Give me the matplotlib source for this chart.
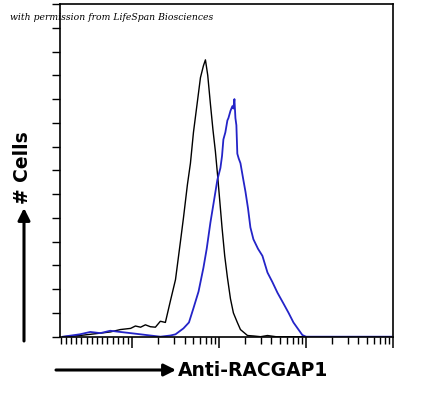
import matplotlib
matplotlib.use("Agg")
import matplotlib.pyplot as plt
import numpy as np
from matplotlib.patches import FancyArrowPatch
from matplotlib.ticker import LogLocator, NullFormatter, MultipleLocator, FixedLocator

# isotype control (black) - fluorescence intensity vs cell count
ctrl_x = [1.6, 2.5, 3.3, 4.3, 5.6, 7.3, 9.6, 10.9, 12.5, 14.2, 16.2, 18.5, 21.1,
          24.1, 27.5, 31.5, 35.9, 38.9, 43.2, 46.8, 50.7, 56.3, 61, 66, 69.6,
          74, 79.4, 85, 90.6, 96, 103.5, 108, 116, 124.5, 135, 146, 162, 176,
          212, 250, 300, 360, 450, 700, 1200, 3000, 9500]
ctrl_y = [0.0, 0.05, 0.1, 0.15, 0.2, 0.3, 0.35, 0.45, 0.4, 0.5, 0.42, 0.4, 0.65,
          0.6, 1.5, 2.4, 4.0, 5.0, 6.4, 7.3, 8.6, 9.9, 10.9, 11.4, 11.65,
          11.0, 9.8, 8.7, 7.8, 6.8, 5.4, 4.6, 3.4, 2.5, 1.6, 1.0, 0.6, 0.3,
          0.05, 0.03, 0.0, 0.05, 0.0, 0.0, 0.0, 0.0, 0.0]

# anti-RACGAP1 stained (blue)
stain_x = [1.6, 2.5, 3.3, 4.3, 5.6, 7.3, 9.6, 12.5, 16.2, 21.1, 27.5, 31.5,
           38.9, 45, 50.7, 58, 66, 72, 79.4, 88, 95.5, 103.5, 108, 112, 118,
           124.5, 128, 135, 142, 146, 150, 154, 158, 162, 168, 176, 190, 201,
           215, 229, 248, 280, 315, 360, 410, 469, 549, 630, 716, 800, 907,
           1000, 1500, 3000, 9500]
stain_y = [0.0, 0.1, 0.2, 0.15, 0.25, 0.2, 0.15, 0.1, 0.05, 0.0, 0.05, 0.1,
           0.35, 0.6, 1.2, 1.9, 2.9, 3.7, 4.8, 5.8, 6.6, 7.1, 7.6, 8.3, 8.6,
           9.1, 9.2, 9.5, 9.7, 9.6, 10.0, 9.2, 8.9, 7.7, 7.5, 7.3, 6.6, 6.1,
           5.4, 4.6, 4.1, 3.7, 3.4, 2.7, 2.3, 1.85, 1.4, 1.0, 0.6, 0.35, 0.07,
           0.0, 0.0, 0.0, 0.0]

X_LABEL = "Anti-RACGAP1"
Y_LABEL = "# Cells"
CREDIT = "with permission from LifeSpan Biosciences"

W, H = 432, 393


def fx(px):
    return px / W


def fy(py):
    return 1 - py / H


fig = plt.figure(figsize=(W / 100, H / 100), dpi=100)
ax = fig.add_axes([fx(60), fy(336.7), fx(393) - fx(60), fy(4) - fy(336.7)])

ax.plot(ctrl_x, ctrl_y, color="black", lw=1.0)
ax.plot(stain_x, stain_y, color="#2424c8", lw=1.3)

ax.set_xscale("log")
ax.set_xlim(10 ** 0.17, 10 ** 4)
ax.set_ylim(0, 14)

# first decade on this cytometer axis has dense, evenly spaced ticks
first_decade = list(np.geomspace(1.5, 9.0, 14))
later = [m * 10 ** d for d in range(1, 4) for m in range(2, 10)]
ax.xaxis.set_major_locator(LogLocator(base=10, numticks=10))
ax.xaxis.set_minor_locator(FixedLocator(first_decade + later))
ax.xaxis.set_major_formatter(NullFormatter())
ax.xaxis.set_minor_formatter(NullFormatter())
ax.yaxis.set_major_locator(MultipleLocator(1))
ax.yaxis.set_major_formatter(NullFormatter())

ax.tick_params(axis="x", which="major", direction="out", length=8, width=1.1)
ax.tick_params(axis="x", which="minor", direction="out", length=5, width=1.0)
ax.tick_params(axis="y", direction="out", length=5.5, width=1.0)
for s in ax.spines.values():
    s.set_linewidth(1.2)

fig.text(fx(10), fy(17), CREDIT, fontsize=6.7, style="italic",
         family="DejaVu Serif", va="center", ha="left")

fig.text(fx(22), fy(168), Y_LABEL, rotation=90, fontsize=13.5,
         fontweight="bold", ha="center", va="center")
fig.text(fx(178), fy(371), X_LABEL, fontsize=13.5, fontweight="bold",
         ha="left", va="center")

arrow = dict(arrowstyle="-|>,head_length=0.6,head_width=0.3", lw=2.2,
             color="black", shrinkA=0, shrinkB=0)
fig.add_artist(FancyArrowPatch(
    (fx(56), fy(370)), (fx(176), fy(370)), transform=fig.transFigure,
    mutation_scale=12, **arrow))
fig.add_artist(FancyArrowPatch(
    (fx(24), fy(341)), (fx(24), fy(208)), transform=fig.transFigure,
    mutation_scale=12, **arrow))

fig.savefig("out.png", dpi=100)
